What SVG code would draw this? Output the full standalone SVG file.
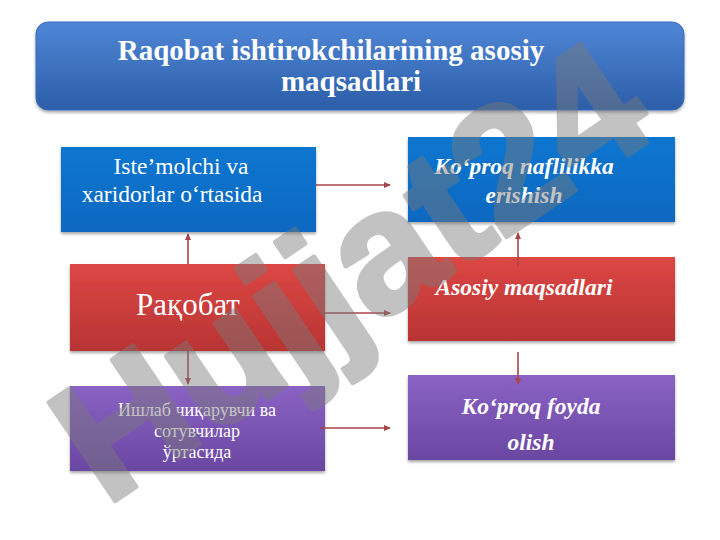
<svg xmlns="http://www.w3.org/2000/svg" width="720" height="540" viewBox="0 0 720 540">
<defs>
<linearGradient id="gTitle" x1="0" y1="0" x2="0" y2="1"><stop offset="0" stop-color="#4f86d6"/><stop offset="1" stop-color="#2c5ea8"/></linearGradient>
<linearGradient id="gBlue" x1="0" y1="0" x2="0" y2="1"><stop offset="0" stop-color="#0b76d0"/><stop offset="1" stop-color="#0a68c0"/></linearGradient>
<linearGradient id="gRed" x1="0" y1="0" x2="0" y2="1"><stop offset="0" stop-color="#dc4744"/><stop offset="1" stop-color="#b83433"/></linearGradient>
<linearGradient id="gPurple" x1="0" y1="0" x2="0" y2="1"><stop offset="0" stop-color="#8a62c4"/><stop offset="1" stop-color="#6a47a2"/></linearGradient>
<filter id="sh" x="-5%" y="-5%" width="110%" height="120%"><feDropShadow dx="0" dy="2" stdDeviation="1.5" flood-color="#000" flood-opacity="0.35"/></filter>
<marker id="arr" markerWidth="8" markerHeight="8" refX="6" refY="4" orient="auto" markerUnits="userSpaceOnUse"><path d="M0,1 L7,4 L0,7 Z" fill="#a8454a"/></marker>
</defs>
<style>
.box{filter:url(#sh)}
.t{fill:#fff;font-family:"Liberation Serif",serif;text-anchor:middle}
.ti{fill:#fff;font-family:"Liberation Serif",serif;font-style:italic;font-weight:bold;text-anchor:middle;font-size:23.5px}
.c{stroke:#a8454a;stroke-width:1.6;fill:none;marker-end:url(#arr)}
</style>
<rect width="720" height="540" fill="#fff"/>
<g id="title">
<rect class="box" x="36" y="22" width="648" height="88" rx="12" fill="url(#gTitle)" stroke="#3a6dbf"/>
<text class="t" x="331" y="60" font-size="29" font-weight="bold">Raqobat ishtirokchilarining asosiy</text>
<text class="t" x="351" y="91" font-size="29" font-weight="bold">maqsadlari</text>
</g>
<g id="n1">
<rect class="box" x="61" y="147" width="255" height="85" fill="url(#gBlue)"/>
<text class="t" x="181" y="174" font-size="23.5">Iste’molchi va</text>
<text class="t" x="172" y="202" font-size="23.5">xaridorlar o‘rtasida</text>
</g>
<g id="n2">
<rect class="box" x="408" y="137" width="267" height="85" fill="url(#gBlue)"/>
<text class="ti" x="524" y="174">Ko‘proq naflilikka</text>
<text class="ti" x="524" y="203">erishish</text>
</g>
<g id="n3">
<rect class="box" x="70" y="264" width="255" height="87" fill="url(#gRed)"/>
<text class="t" x="188" y="315" font-size="31">Рақобат</text>
</g>
<g id="n4">
<rect class="box" x="408" y="257" width="267" height="84" fill="url(#gRed)"/>
<text class="ti" x="524" y="295">Asosiy maqsadlari</text>
</g>
<g id="n5">
<rect class="box" x="70" y="386" width="255" height="85" fill="url(#gPurple)"/>
<text class="t" x="197" y="416" font-size="18">Ишлаб чиқарувчи ва</text>
<text class="t" x="197" y="437" font-size="18">сотувчилар</text>
<text class="t" x="197" y="458" font-size="18">ўртасида</text>
</g>
<g id="n6">
<rect class="box" x="408" y="375" width="267" height="85" fill="url(#gPurple)"/>
<text class="ti" x="531" y="414">Ko‘proq foyda</text>
<text class="ti" x="531" y="450">olish</text>
</g>
<g id="connectors">
<line class="c" x1="316" y1="185" x2="390" y2="185"/>
<line class="c" x1="320" y1="313" x2="390" y2="313"/>
<line class="c" x1="320" y1="428" x2="390" y2="428"/>
<line class="c" x1="188" y1="264" x2="188" y2="234"/>
<line class="c" x1="188" y1="351" x2="188" y2="384"/>
<line class="c" x1="518" y1="266" x2="518" y2="233"/>
<line class="c" x1="518" y1="352" x2="518" y2="384"/>
</g>
<g opacity="0.45">
<text x="383" y="320" transform="rotate(-34 383 320)" text-anchor="middle" font-family="Liberation Sans,sans-serif" font-weight="bold" font-size="172" fill="#7a7a7a" stroke="#7a7a7a" stroke-width="5" stroke-linejoin="round">Hujjat24</text>
</g>
</svg>
